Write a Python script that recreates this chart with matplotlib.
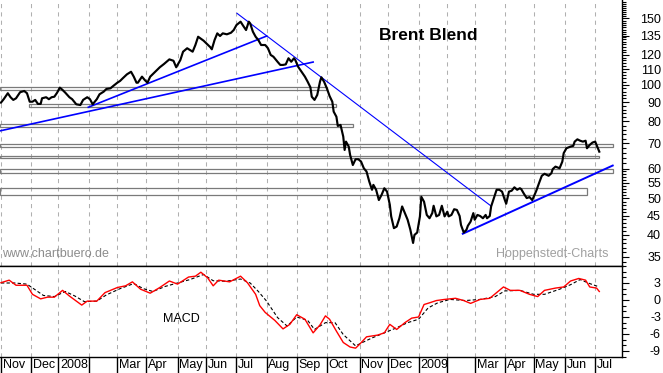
import matplotlib
matplotlib.use('Agg')
from matplotlib import pyplot as plt
from matplotlib.patches import Rectangle
from matplotlib.ticker import FixedLocator, FuncFormatter, NullFormatter

plt.rcParams['font.family'] = ['Liberation Sans', 'DejaVu Sans']

# trading day number since 1 Nov 2007 / Brent close in USD
day = [
  0, 2, 5, 7, 9, 11, 14, 17, 19, 21,
  23, 25, 27, 29, 30, 33, 35, 37, 39, 41,
  43, 45, 47, 50, 52, 55, 58, 60, 63, 65,
  67, 70, 72, 75, 77, 80, 82, 85, 87, 89,
  92, 95, 97, 99, 100, 103, 105, 107, 109, 112,
  114, 116, 119, 121, 123, 126, 128, 131, 133, 136,
  138, 140, 142, 144, 148, 150, 153, 154, 156, 158,
  160, 162, 165, 168, 170, 172, 175, 177, 179, 181,
  182, 184, 186, 188, 190, 193, 195, 197, 199, 202,
  204, 206, 208, 210, 212, 214, 215, 217, 220, 222,
  224, 226, 227, 229, 231, 233, 234, 236, 238, 240,
  242, 243, 245, 246, 248, 250, 251, 252, 254, 255,
  257, 259, 261, 263, 265, 267, 269, 271, 272, 274,
  276, 278, 280, 282, 284, 285, 287, 289, 291, 293,
  295, 297, 299, 301, 302, 304, 306, 307, 309, 311,
  313, 315, 316, 318, 320, 322, 324, 326, 327, 329,
  331, 333, 335, 336, 338, 340, 341, 343, 345, 346,
  348, 350, 352, 354, 355, 357, 358, 360, 362, 364,
  366, 368, 369, 371, 373, 375, 377, 379, 380, 382,
  384, 386, 388, 389, 391, 393, 395, 397, 400, 402,
  403, 405, 408, 410, 411, 413, 416, 418, 419, 421,
  423, 425, 427, 428, 430, 432, 434, 436, 437]
price = [
  89.7, 91.6, 95.0, 92.7, 91.2, 92.1, 95.6, 96.3, 95.0, 90.2,
  90.2, 91.2, 89.0, 89.0, 92.1, 92.7, 91.6, 92.7, 93.0, 95.3,
  98.3, 96.9, 95.3, 92.7, 91.6, 88.8, 88.4, 91.2, 92.7, 91.6,
  88.8, 91.6, 94.4, 95.9, 97.5, 97.9, 99.3, 101.3, 102.4, 104.1,
  106.6, 108.3, 105.1, 101.3, 101.3, 105.1, 103.0, 101.3, 105.1, 107.7,
  109.5, 111.3, 113.5, 115.1, 116.8, 115.8, 111.3, 116.3, 122.4, 125.0,
  123.7, 122.4, 127.5, 134.1, 130.9, 128.8, 125.7, 124.2, 131.4, 136.9,
  134.7, 136.9, 136.1, 137.4, 139.7, 144.0, 147.0, 143.2, 139.7, 147.0,
  145.5, 138.3, 134.1, 131.4, 127.5, 127.5, 125.0, 120.0, 118.7, 115.1,
  112.9, 112.9, 113.3, 117.6, 115.1, 117.6, 116.3, 111.7, 107.7, 105.1,
  101.9, 98.5, 93.0, 91.2, 94.0, 101.9, 104.7, 101.9, 97.9, 93.4,
  90.2, 84.9, 82.3, 77.8, 78.3, 72.9, 67.2, 70.7, 68.6, 65.2,
  61.3, 63.5, 63.5, 62.6, 60.1, 58.9, 55.4, 52.7, 54.3, 52.7,
  49.5, 51.1, 53.2, 52.1, 48.1, 44.8, 41.7, 42.1, 44.3, 47.6,
  45.7, 43.9, 41.3, 38.1, 40.0, 40.6, 44.8, 50.5, 49.0, 45.2,
  44.3, 45.7, 47.8, 44.8, 45.2, 47.8, 44.8, 46.1, 44.8, 45.2,
  46.8, 46.6, 44.9, 42.5, 40.6, 41.3, 42.3, 43.4, 45.7, 43.9,
  45.2, 44.9, 44.3, 45.2, 44.3, 44.9, 47.6, 50.1, 52.7, 52.7,
  52.1, 49.5, 48.4, 52.1, 52.4, 53.5, 52.7, 53.2, 52.9, 51.4,
  50.1, 50.4, 49.5, 50.4, 52.4, 54.9, 57.4, 58.1, 57.4, 58.3,
  59.8, 60.7, 60.1, 62.6, 65.9, 67.9, 68.6, 68.9, 70.7, 71.7,
  71.1, 70.7, 71.1, 67.9, 69.3, 70.3, 70.7, 67.9, 66.5]

macd_day = [
  0, 6, 11, 19, 23, 29, 34, 39, 45, 50,
  59, 63, 70, 76, 85, 91, 96, 102, 109, 116,
  123, 129, 137, 142, 146, 151, 155, 159, 167, 175,
  180, 186, 189, 193, 200, 206, 211, 216, 222, 228,
  233, 237, 240, 245, 250, 255, 259, 262, 267, 275,
  280, 284, 289, 295, 300, 305, 309, 313, 318, 324,
  332, 338, 343, 350, 357, 362, 367, 372, 379, 386,
  392, 397, 405, 411, 416, 422, 427, 430, 435, 437]
macd = [
  3.05, 3.5, 2.6, 2.6, 1.0, 0.2, 0.5, 0.5, 1.7, 0.7,
  -0.9, -0.2, -0.2, 1.3, 2.2, 2.5, 3.2, 1.9, 1.2, 2.2,
  3.35, 2.8, 4.05, 4.2, 4.9, 3.9, 2.5, 3.5, 3.2, 4.2,
  3.05, 1.0, -1.0, -2.2, -3.6, -5.1, -4.3, -2.6, -3.4, -5.8,
  -4.4, -2.8, -3.4, -5.5, -7.5, -8.3, -8.5, -7.8, -6.5, -6.2,
  -5.8, -4.3, -5.2, -4.0, -3.2, -3.0, -0.8, -0.5, -0.1, 0.1,
  0.3, -0.1, -0.6, 0.1, 0.3, 1.3, 2.3, 1.7, 1.7, 1.0,
  0.6, 1.7, 2.1, 2.3, 3.35, 3.8, 3.5, 2.3, 2.1, 1.5]

signal_day = [
  0, 10, 19, 31, 39, 47, 54, 61, 70, 77,
  87, 97, 104, 111, 120, 129, 138, 148, 155, 164,
  175, 182, 188, 194, 202, 209, 216, 224, 229, 237,
  244, 250, 259, 264, 271, 280, 289, 297, 305, 312,
  319, 328, 339, 350, 361, 368, 379, 389, 397, 408,
  416, 423, 430, 437]
signal = [
  3.0, 3.0, 2.8, 0.8, 0.6, 1.5, 0.7, -0.3, -0.2, 0.9,
  2.0, 2.9, 2.0, 1.5, 2.4, 3.0, 3.6, 4.5, 3.4, 3.3,
  3.7, 3.0, 1.5, -0.2, -3.1, -4.6, -3.0, -3.6, -5.2, -4.0,
  -4.0, -6.1, -8.1, -7.5, -6.7, -5.8, -4.9, -4.0, -3.4, -1.4,
  -0.5, 0.1, -0.1, 0.1, 0.6, 1.6, 1.7, 1.0, 1.0, 1.9,
  2.7, 3.6, 2.9, 2.3]

# support / resistance zones
zone_low = [96.8, 87.6, 77.5, 68.6, 64.0, 58.3, 50.9]
zone_high = [98.5, 89.0, 78.8, 69.7, 64.6, 59.9, 53.2]
zone_start = [-1, 20.5, -1, -1, -1, -1, -1]
zone_end = [238, 245, 257, 447, 437, 447, 428]

# trend lines
trend_day0 = [-0.7, 63.8, 172.4, 337.3]
trend_p0 = [75.5, 87.2, 154.7, 40.3]
trend_day1 = [228, 194.1, 357.7, 446.8]
trend_p1 = [114.9, 134.7, 47.8, 61.1]

month_start = [0, 22, 42, 64, 85, 106, 129, 150, 172, 194, 216,
               238, 262, 283, 305, 326, 346, 368, 389, 412, 434]
month_label = ['Nov', 'Dec', '2008', '', 'Mar', 'Apr', 'May', 'Jun', 'Jul', 'Aug', 'Sep',
               'Oct', 'Nov', 'Dec', '2009', '', 'Mar', 'Apr', 'May', 'Jun', 'Jul']

price_ticks = [35, 40, 45, 50, 55, 60, 70, 80, 90, 100, 110, 120, 135, 150]
macd_ticks = [-9, -6, -3, 0, 3]


fig = plt.figure(figsize=(6.63, 3.73), dpi=100)
ax = fig.add_axes([0, 0.2869, 0.9382, 0.7131])
ax_m = fig.add_axes([0, 0.0429, 0.9382, 0.2440], sharex=ax)

grid_style = dict(color='#b0b0b0', lw=0.75, linestyle=(0, (4, 4)))
fmt = FuncFormatter(lambda v, pos: f'{v:g}')

# price panel
ax.set_yscale('log')
for lo, hi, x0, x1 in zip(zone_low, zone_high, zone_start, zone_end):
  ax.add_patch(Rectangle((x0, lo), x1 - x0, hi - lo, fill=False,
                         edgecolor='#7a7a7a', lw=0.9, zorder=2))

trend_lw = [1.2, 1.2, 0.8, 1.4]
for d0, p0, d1, p1, w in zip(trend_day0, trend_p0, trend_day1, trend_p1, trend_lw):
  ax.plot([d0, d1], [p0, p1], color='#0000ff', lw=w, zorder=3)

ax.plot(day, price, color='black', lw=1.55, zorder=4, solid_joinstyle='round')

ax.set_xlim(-0.7, 453.6)
ax.set_ylim(33.1, 167.8)
ax.set_xticks(month_start)
ax.grid(axis='x', **grid_style)
ax.tick_params(axis='x', length=0, labelbottom=False)

ax.yaxis.tick_right()
ax.yaxis.set_major_locator(FixedLocator(price_ticks))
ax.yaxis.set_minor_locator(FixedLocator(list(range(34, 60)) + list(range(60, 168, 2))))
ax.yaxis.set_major_formatter(fmt)
ax.yaxis.set_minor_formatter(NullFormatter())
ax.tick_params(axis='y', which='major', length=5, width=0.8, pad=23, labelsize=9)
ax.tick_params(axis='y', which='minor', length=3, width=0.8)

for side in ['left', 'top']:
  ax.spines[side].set_visible(False)
ax.spines['bottom'].set_linewidth(1.0)
ax.spines['right'].set_linewidth(1.0)

ax.text(0.688, 0.866, 'Brent Blend', transform=ax.transAxes, ha='center', va='center',
        fontsize=12.5, fontweight='bold')
ax.text(0.003, 0.045, 'www.chartbuero.de', transform=ax.transAxes, ha='left', va='center',
        fontsize=9, color='#8c8c8c')
ax.text(0.979, 0.045, 'Hoppenstedt-Charts', transform=ax.transAxes, ha='right', va='center',
        fontsize=9, color='#a0a0a0')

# MACD panel
ax_m.plot(macd_day, macd, color='#ff0000', lw=1.0, zorder=3)
ax_m.plot(signal_day, signal, color='black', lw=0.8, linestyle=(0, (3, 2)), zorder=2)
ax_m.set_ylim(-10.06, 6.0)
ax_m.grid(axis='x', **grid_style)

ax_m.yaxis.tick_right()
ax_m.yaxis.set_major_locator(FixedLocator(macd_ticks))
ax_m.yaxis.set_minor_locator(FixedLocator(list(range(-10, 7))))
ax_m.yaxis.set_major_formatter(fmt)
ax_m.tick_params(axis='y', which='major', length=5, width=0.8, pad=23, labelsize=9)
ax_m.tick_params(axis='y', which='minor', length=3, width=0.8)
ax_m.tick_params(axis='x', length=11.5, width=1, direction='out', labelbottom=False)
ax_m.spines['left'].set_visible(False)
for side in ['top', 'bottom', 'right']:
  ax_m.spines[side].set_linewidth(1.0)

for ms, lab in zip(month_start, month_label):
  ax_m.annotate(lab, xy=(ms, 0), xycoords=('data', 'axes fraction'), xytext=(1.3, -1.5),
                textcoords='offset points', ha='left', va='top', fontsize=9,
                annotation_clip=False)

ax_m.text(0.262, 0.418, 'MACD', transform=ax_m.transAxes, ha='left', va='center', fontsize=9)

plt.setp(ax.get_yticklabels(), ha='right')
plt.setp(ax_m.get_yticklabels(), ha='right')

fig.savefig('out.png', dpi=100)
